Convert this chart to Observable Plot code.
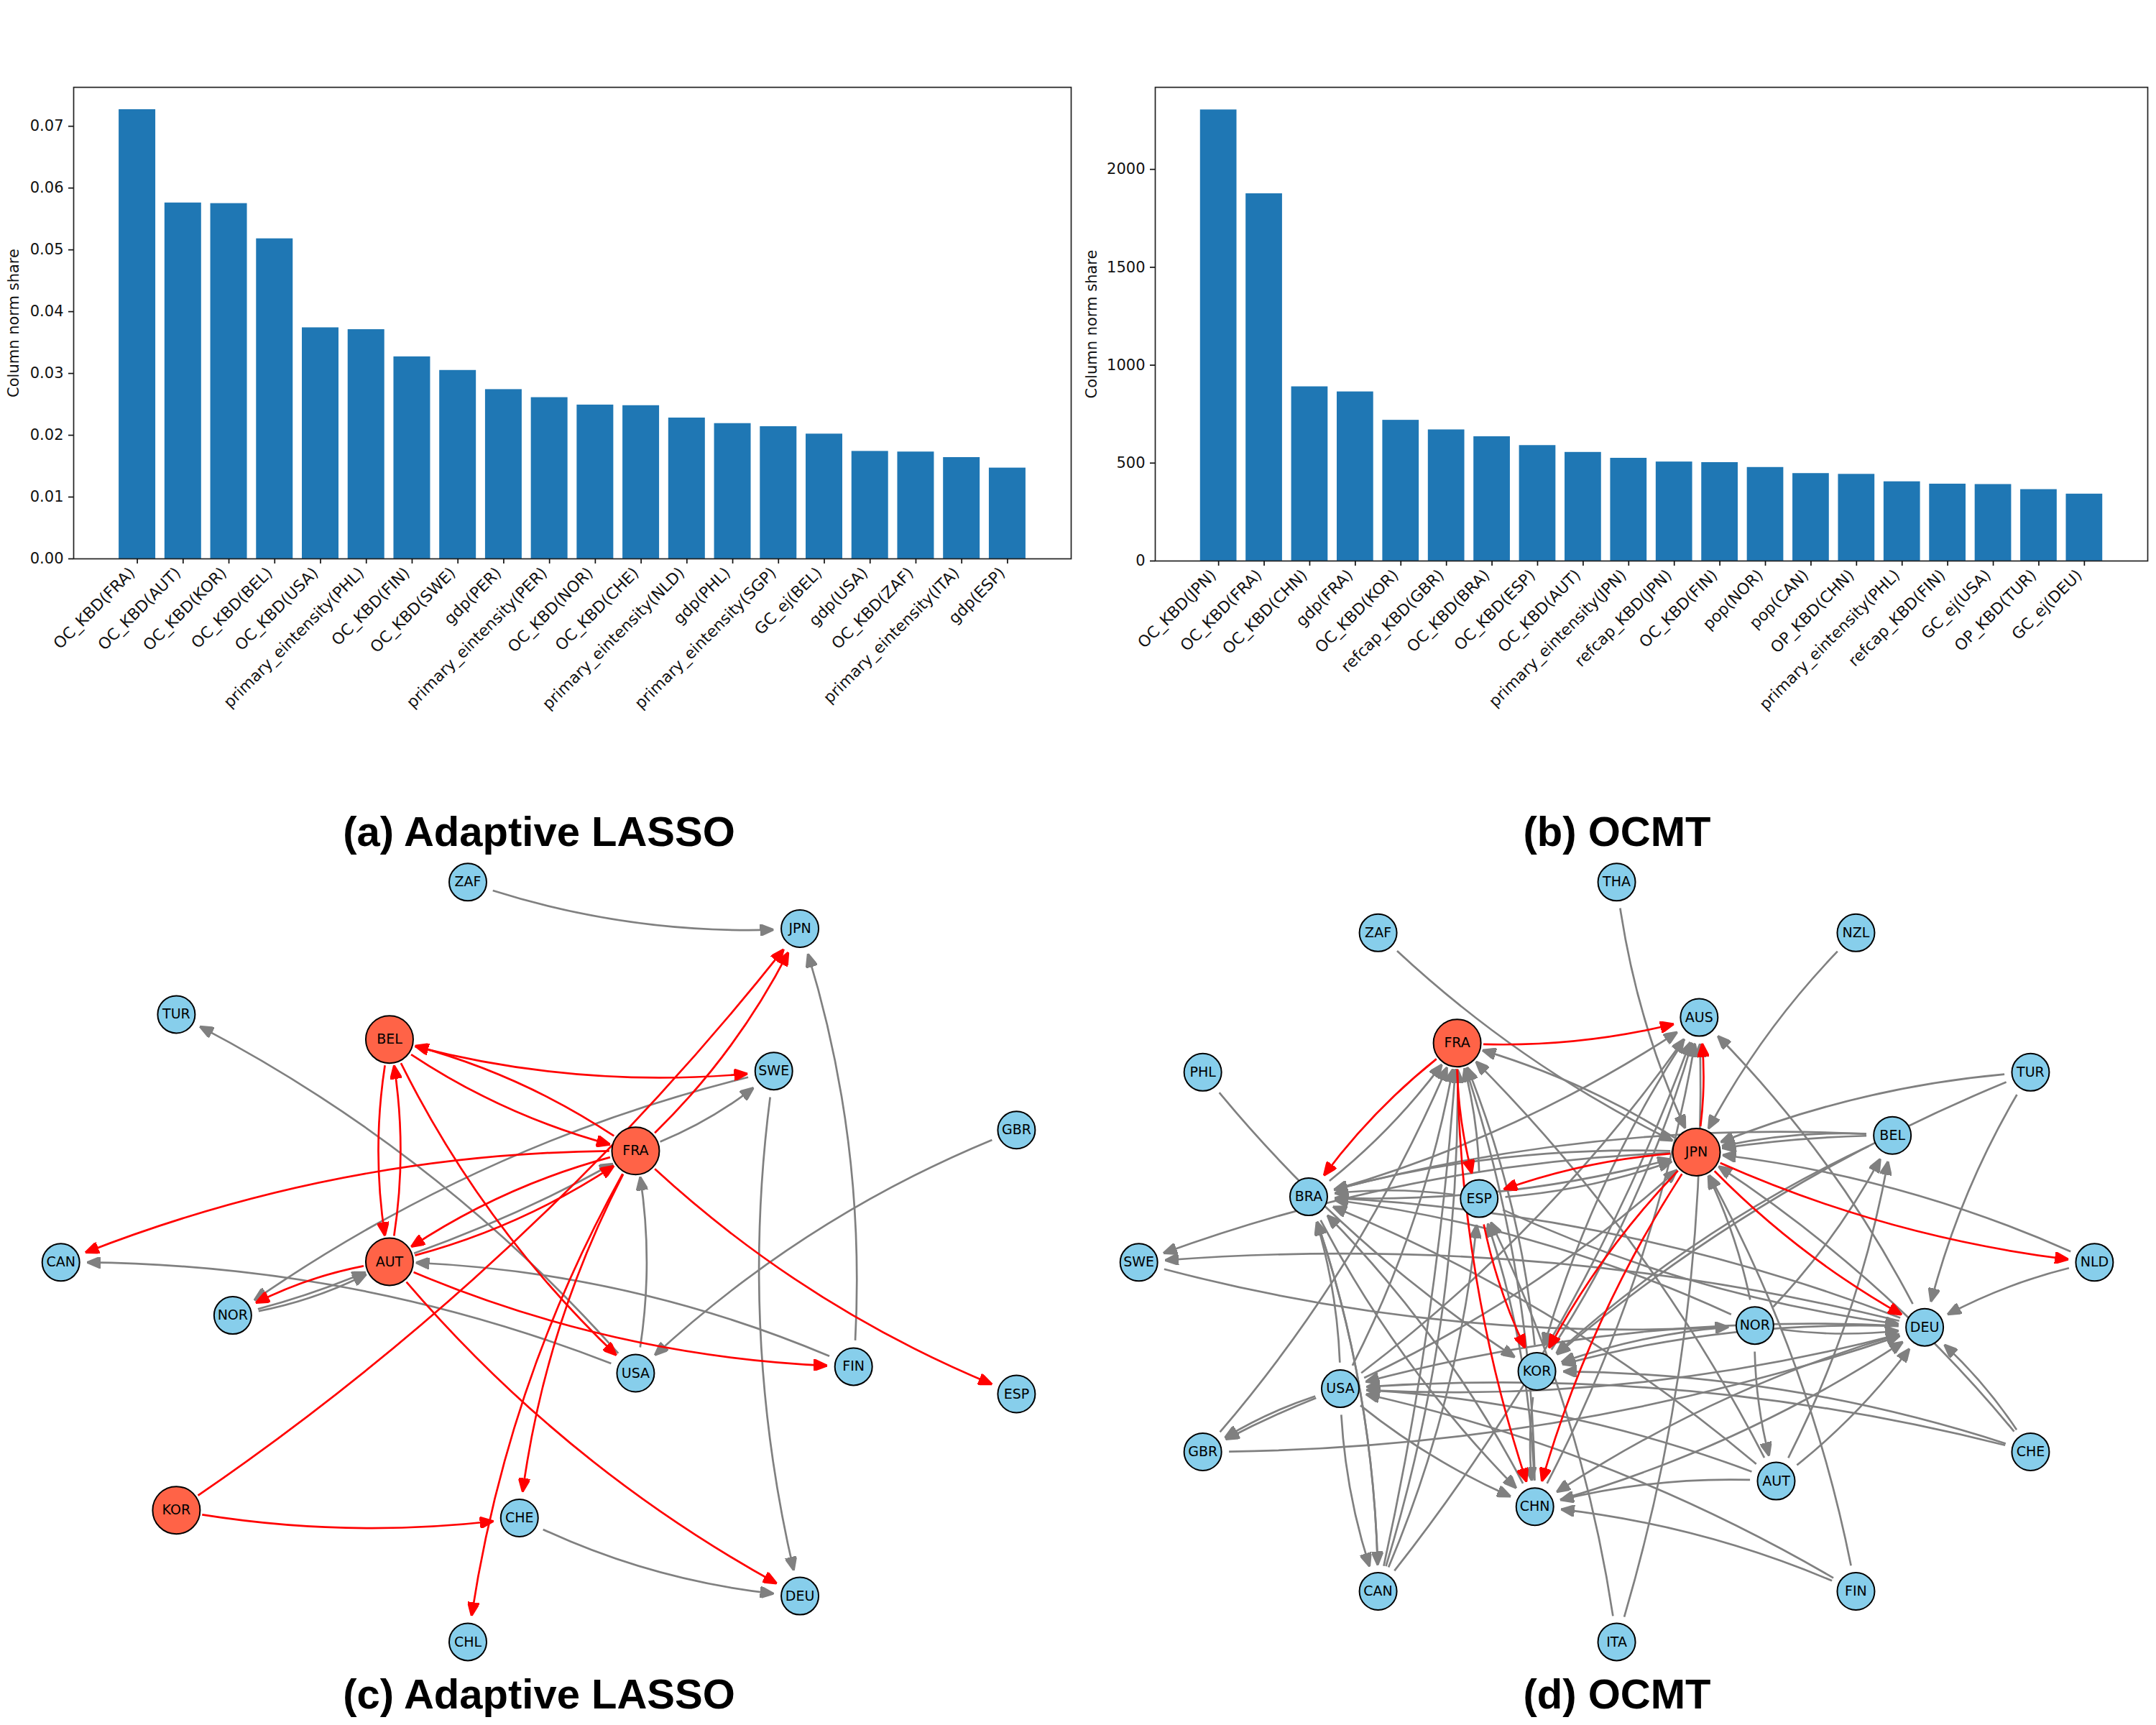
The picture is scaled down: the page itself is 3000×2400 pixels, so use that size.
<!DOCTYPE html>
<html>
<head>
<meta charset="utf-8">
<script src="https://cdn.jsdelivr.net/npm/d3@7"></script>
<script src="https://cdn.jsdelivr.net/npm/@observablehq/plot@0.6"></script>
<style>
html,body{margin:0;padding:0;background:#fff}
#page{position:relative;width:3000px;height:2400px;overflow:hidden;background:#fff}
#page>div{position:absolute}
.title{font-family:"Liberation Sans",Arial,sans-serif;font-weight:700;font-size:58px;line-height:66px;color:#000;width:1500px;text-align:center}
</style>
</head>
<body>
<div id="page"></div>
<script>
const labelsA = ["OC_KBD(FRA)","OC_KBD(AUT)","OC_KBD(KOR)","OC_KBD(BEL)","OC_KBD(USA)","primary_eintensity(PHL)","OC_KBD(FIN)","OC_KBD(SWE)","gdp(PER)","primary_eintensity(PER)","OC_KBD(NOR)","OC_KBD(CHE)","primary_eintensity(NLD)","gdp(PHL)","primary_eintensity(SGP)","GC_ej(BEL)","gdp(USA)","OC_KBD(ZAF)","primary_eintensity(ITA)","gdp(ESP)"];
const valuesA = [0.0727,0.0576,0.0575,0.0518,0.0374,0.0371,0.0327,0.0305,0.0274,0.0261,0.0249,0.0248,0.0228,0.0219,0.0214,0.0202,0.0174,0.0173,0.0164,0.0147];
const labelsB = ["OC_KBD(JPN)","OC_KBD(FRA)","OC_KBD(CHN)","gdp(FRA)","OC_KBD(KOR)","refcap_KBD(GBR)","OC_KBD(BRA)","OC_KBD(ESP)","OC_KBD(AUT)","primary_eintensity(JPN)","refcap_KBD(JPN)","OC_KBD(FIN)","pop(NOR)","pop(CAN)","OP_KBD(CHN)","primary_eintensity(PHL)","refcap_KBD(FIN)","GC_ej(USA)","OP_KBD(TUR)","GC_ej(DEU)"];
const valuesB = [2304,1876,890,864,719,670,635,590,555,525,506,503,478,447,443,405,393,391,365,342];
const ticksA = [0,0.01,0.02,0.03,0.04,0.05,0.06,0.07];
const ticksB = [0,500,1000,1500,2000];

// Network layouts (layout units)
const nodesC = ["ZAF","JPN","TUR","BEL","SWE","GBR","FRA","CAN","AUT","NOR","USA","FIN","ESP","KOR","CHE","DEU","CHL"];
const xC = [680,1163,256,566,1125,1478,924,88,566,338,924,1241,1478,256,755,1163,680];
const yC = [153,231,375,417,470,569,604,791,790,880,977,966,1012,1207,1220,1351,1428];
const hubsC = ["BEL","FRA","AUT","KOR"];
const grayC = ["ZAF>JPN","FIN>JPN","USA>TUR","USA>FRA","USA>CAN","FIN>AUT","GBR>USA","SWE>NOR","SWE>DEU","FRA>SWE","CHE>DEU","NOR>AUT"];
const grayFlatC = ["AUT>FRA","NOR>AUT"];
const redC = ["BEL>SWE","FRA>BEL","BEL>FRA","BEL>AUT","AUT>BEL","BEL>USA","FRA>CAN","FRA>AUT","AUT>FRA","AUT>NOR","AUT>FIN","AUT>DEU","FRA>JPN","FRA>CHE","FRA>CHL","FRA>ESP"];
const redFlatC = ["KOR>JPN","KOR>CHE"];

const nodesD = ["THA","ZAF","NZL","AUS","FRA","PHL","TUR","BEL","JPN","BRA","ESP","SWE","NLD","NOR","DEU","KOR","USA","GBR","CHE","AUT","CHN","CAN","FIN","ITA"];
const xD = [783,436,1131,903,551,181,1385,1184,899,335,583,88,1478,984,1231,667,381,181,1385,1015,664,436,1131,783];
const yD = [153,238,238,380,423,472,472,578,606,681,684,791,791,897,900,974,1003,1109,1109,1158,1201,1343,1343,1428];
const hubsD = ["FRA","JPN"];
const grayD = ["THA>JPN","NZL>JPN","ZAF>JPN","BRA>JPN","ESP>JPN","USA>JPN","BEL>JPN","TUR>JPN","NLD>JPN","NOR>JPN","FIN>JPN","CHE>JPN",
"BRA>AUS","DEU>AUS","KOR>AUS","CHN>AUS","CAN>AUS","USA>AUS","ITA>AUS",
"BRA>FRA","GBR>FRA","USA>FRA","CAN>FRA","ESP>FRA","KOR>FRA","CHN>FRA","JPN>FRA","AUT>FRA",
"JPN>BRA","ESP>BRA","BEL>BRA","DEU>BRA","NOR>BRA","USA>BRA","CAN>BRA","CHN>BRA","AUT>BRA",
"JPN>SWE","DEU>SWE","SWE>NOR","PHL>KOR","BRA>CHN",
"TUR>DEU","NLD>DEU","CHE>DEU","AUT>DEU","NOR>DEU","ESP>DEU","USA>DEU","GBR>DEU","CHN>DEU",
"AUS>KOR","BEL>KOR","TUR>KOR","DEU>KOR","NOR>KOR","CHE>KOR",
"DEU>USA","CHE>USA","AUT>USA","FIN>USA","USA>GBR",
"NOR>AUT","NOR>BEL","AUT>BEL",
"USA>CHN","AUT>CHN","DEU>CHN","FIN>CHN","KOR>CHN",
"USA>CAN","CAN>ESP","ITA>ESP","CHN>ESP"];
const grayFlatD = ["BEL>JPN","USA>GBR","CAN>FRA"];
const grayBackD = ["BRA>CAN"];
const redD = ["FRA>AUS","FRA>BRA","FRA>ESP","FRA>CHN","JPN>AUS","JPN>ESP","JPN>KOR","JPN>CHN","JPN>NLD","JPN>DEU","ESP>KOR"];

const GRAY = "#808080", RED = "#ff0000", BLUE = "#1f77b4", SKY = "#87ceeb", TOMATO = "#ff6347";
const page = document.getElementById("page");
function place(el, x, y){ const d = document.createElement("div"); d.style.left = x+"px"; d.style.top = y+"px"; d.appendChild(el); page.appendChild(d); return d; }

function barPanel(labels, values, ticks, left, right, bottom, yMax, fmt){
  const data = labels.map((name,i)=>({name, value:values[i]}));
  return Plot.plot({
    width:1500, height:1100,
    marginLeft:left, marginRight:right, marginTop:121, marginBottom:1100-bottom,
    style:{fontFamily:"DejaVu Sans",background:"#fff",color:"#111"},
    x:{domain:labels,paddingInner:0.2,paddingOuter:0.99,round:false,axis:null},
    y:{domain:[0,yMax],axis:null},
    marks:[
      Plot.barY(data,{x:"name",y:"value",fill:BLUE}),
      Plot.frame({stroke:"#222",strokeWidth:1.7}),
      Plot.axisX({anchor:"bottom",tickSize:7,fill:"none",label:null,strokeWidth:1.7}),
      Plot.axisX({anchor:"bottom",tickRotate:-45,tickSize:0,tickPadding:16,dx:-7,fontSize:22,label:null}),
      Plot.axisY({ticks,anchor:"left",tickSize:7,tickPadding:7,fontSize:21,tickFormat:fmt,label:"Column norm share",labelAnchor:"center",labelArrow:"none",labelOffset:left-11,strokeWidth:1.7})
    ]
  });
}

function arc(rad, trimStart, trimEnd){
  return function(ctx){
    let pts = [];
    return {
      lineStart(){pts=[];}, lineEnd(){
        if(pts.length<2) return;
        const [a,b] = pts, dx=b[0]-a[0], dy=b[1]-a[1];
        const c = [(a[0]+b[0])/2 - rad*dy, (a[1]+b[1])/2 + rad*dx];
        const len = Math.hypot(dx,dy);
        const t0 = trimStart/len, t1 = 1-trimEnd/len;
        const q = (p0,p1,t)=>[p0[0]+(p1[0]-p0[0])*t,p0[1]+(p1[1]-p0[1])*t];
        const bez = t=>q(q(a,c,t),q(c,b,t),t);
        const s = bez(t0), e = bez(t1);
        const ctrl = q(q(a,c,t0),q(c,b,t0),t1);
        ctx.moveTo(s[0],s[1]);
        ctx.quadraticCurveTo(ctrl[0],ctrl[1],e[0],e[1]);
      },
      point(x,y){pts.push([x,y]);},
      areaStart(){}, areaEnd(){}
    };
  };
}
function head(color){
  const ns="http://www.w3.org/2000/svg";
  const m=document.createElementNS(ns,"marker");
  m.setAttribute("viewBox","-19 -8 19 16");
  m.setAttribute("markerUnits","userSpaceOnUse");
  m.setAttribute("markerWidth",19); m.setAttribute("markerHeight",16);
  m.setAttribute("refX",0); m.setAttribute("refY",0); m.setAttribute("orient","auto");
  const p=document.createElementNS(ns,"path");
  p.setAttribute("d","M-19,-8L0,0L-19,8Z"); p.setAttribute("fill",color);
  m.appendChild(p); return m;
}
const TRIM = 36;
function links(list, pos, color, rad){
  const rows = list.map(s=>{const [a,b]=s.split(">"); return {a:pos.get(a),b:pos.get(b)};});
  return Plot.link(rows,{x1:d=>d.a[0],y1:d=>d.a[1],x2:d=>d.b[0],y2:d=>d.b[1],stroke:color,strokeWidth:2.7,strokeOpacity:1,
    curve:arc(rad,TRIM,TRIM),markerEnd:head});
}
function network(nodes, xs, ys, hubs, layers){
  const pos = new Map(nodes.map((n,i)=>[n,[xs[i],ys[i]]]));
  const rows = nodes.map((name,i)=>({name,x:xs[i],y:ys[i],hub:hubs.includes(name)}));
  return Plot.plot({
    width:1500,height:1300,margin:0,
    style:{fontFamily:"DejaVu Sans",background:"transparent"},
    x:{domain:[0,1568],range:[0,1500],axis:null},
    y:{domain:[0,1568],range:[0,1300],axis:null},
    marks:[
      ...layers.map(l=>links(l.list,pos,l.color,l.rad)),
      Plot.dot(rows.filter(d=>!d.hub),{x:"x",y:"y",r:26,fill:SKY,stroke:"#000",strokeWidth:2}),
      Plot.dot(rows.filter(d=>d.hub),{x:"x",y:"y",r:33,fill:TOMATO,stroke:"#000",strokeWidth:2}),
      Plot.text(rows,{x:"x",y:"y",text:"name",fontSize:19,fill:"#000"})
    ]
  });
}

place(barPanel(labelsA,valuesA,ticksA,102,10,777,0.0763,d3.format(".2f")),0,0);
place(barPanel(labelsB,valuesB,ticksB,107,12,780,2419,d3.format("d")),1500,0);
place(network(nodesC,xC,yC,hubsC,[
  {list:grayC,color:GRAY,rad:0.1},{list:grayFlatC,color:GRAY,rad:0.05},{list:redC,color:RED,rad:0.1},{list:redFlatC,color:RED,rad:0.08}
]),0,1100);
place(network(nodesD,xD,yD,hubsD,[
  {list:grayD,color:GRAY,rad:0.085},{list:grayFlatD,color:GRAY,rad:0.04},{list:grayBackD,color:GRAY,rad:-0.085},{list:redD,color:RED,rad:0.085}
]),1500,1100);

[["(a) Adaptive LASSO",0,1124],["(b) OCMT",1500,1124],["(c) Adaptive LASSO",0,2324],["(d) OCMT",1500,2324]].forEach(([t,x,y])=>{
  const s=document.createElement("div"); s.className="title"; s.textContent=t; place(s,x,y);
});
</script>
</body>
</html>
